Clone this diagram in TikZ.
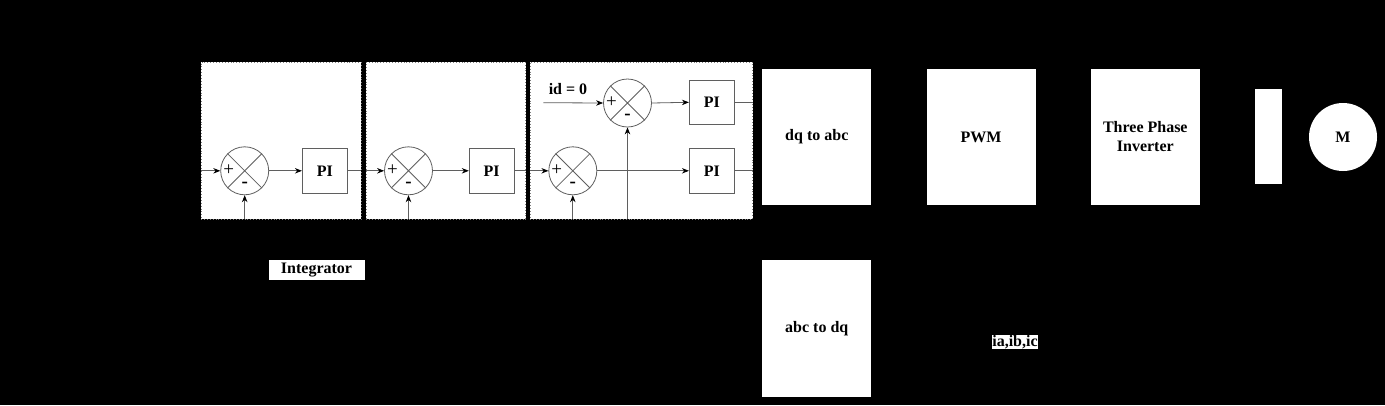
\documentclass[tikz,border=0pt]{standalone}
\usepackage{fontspec}
\setmainfont{Liberation Serif}
\usetikzlibrary{arrows.meta}
\definecolor{ln}{RGB}{95,95,95}
\tikzset{
  lbl/.style={font=\fontsize{16}{19}\selectfont\bfseries},
  panel/.style={draw=gray, dotted, line width=0.9pt, fill=white, inner sep=0pt},
  pibox/.style={draw=ln, line width=0.8pt, fill=white, minimum width=45pt, minimum height=45pt, inner sep=0pt, lbl},
  sumc/.style={draw=ln, line width=0.8pt, circle, fill=white, minimum size=48pt, inner sep=0pt},
  bigbox/.style={fill=white, minimum width=109pt, minimum height=136pt, inner sep=0pt, align=center, lbl},
  wire/.style={draw=ln, line width=0.8pt},
  arr/.style={wire, -{Stealth[length=7pt,width=5.5pt,black]}},
  sgn/.style={font=\fontsize{19}{19}\selectfont, inner sep=0pt}
}
\begin{document}
\begin{tikzpicture}[x=1pt,y=-1pt]
\fill[black] (0,0) rectangle (1385,405);
\useasboundingbox (0,0) rectangle (1385,405);

% panels
\node[panel, minimum width=160pt, minimum height=157pt] (pan1) at (281,140.5) {};
\node[panel, minimum width=159.7pt, minimum height=157pt] (pan2) at (445.8,140.5) {};
\node[panel, minimum width=222.7pt, minimum height=157pt] (pan3) at (641.3,140.5) {};

% summing junctions and PI blocks
\node[sumc] (s1) at (244.7,170.8) {};
\node[pibox] (p1) at (324.8,170.8) {PI};
\node[sumc] (s2) at (408.5,170.8) {};
\node[pibox] (p2) at (491.7,170.8) {PI};
\node[sumc] (s3) at (572.8,170.8) {};
\node[sumc] (s4) at (627.5,103) {};
\node[pibox, minimum height=44pt] (p3) at (711.8,102.3) {PI};
\node[pibox] (p4) at (711.8,170.8) {PI};

\foreach \s in {s1,s2,s3,s4}{
  \draw[ln, line width=0.8pt] (\s.45) -- (\s.225) (\s.135) -- (\s.315);
  \node[sgn] at ([xshift=-16pt,yshift=0.5pt]\s.center) {+};
  \node[sgn, font=\fontsize{19}{19}\selectfont\bfseries] at ([yshift=-14pt]\s.center) {-};
}

\node[lbl, inner sep=0pt] (id0) at (568,89) {id = 0};
\coordinate (idin) at (543.3,102.7);

% connectors panel 1
\draw[arr] (pan1.west |- s1) -- (s1.west);
\draw[arr] (s1.east) -- (p1.west);
\draw[wire] (p1.east) -- (pan1.east |- p1);
\draw[arr] (pan1.south -| s1) -- (s1.south);
% panel 2
\draw[arr] (pan2.west |- s2) -- (s2.west);
\draw[arr] (s2.east) -- (p2.west);
\draw[wire] (p2.east) -- (pan2.east |- p2);
\draw[arr] (pan2.south -| s2) -- (s2.south);
% panel 3
\draw[arr] (pan3.west |- s3) -- (s3.west);
\draw[arr] (s3.east) -- (p4.west);
\draw[wire] (p4.east) -- (pan3.east |- p4);
\draw[arr] (pan3.south -| s3) -- (s3.south);
\draw[arr] (pan3.south -| s4) -- (s4.south);
\draw[arr] (idin) -- (s4.west);
\draw[arr] (s4.east) -- (p3.west);
\draw[wire] (p3.east) -- (pan3.east |- p3);

% big blocks
\node[bigbox] (dq2abc) at (816.8,137) {dq to abc};
\node[bigbox, minimum height=137pt] (abc2dq) at (816.8,328.5) {abc to dq};
\node[bigbox] (pwm) at (981,137) {PWM};
\node[bigbox] (inv) at (1145.3,137) {Three Phase\\Inverter};
\node[fill=white, minimum width=27pt, minimum height=95pt, inner sep=0pt] (bar) at (1268.5,136.5) {};
\node[circle, fill=white, minimum size=68pt, inner sep=0pt, lbl] (mot) at (1343,137) {M};

% labels
\node[fill=white, minimum width=96pt, minimum height=20pt, inner sep=0pt, lbl] (integ) at (316.5,270) {Integrator};
\node[fill=white, inner sep=0.5pt, lbl] (iabc) at (1015,342) {ia,ib,ic};
\end{tikzpicture}
\end{document}
